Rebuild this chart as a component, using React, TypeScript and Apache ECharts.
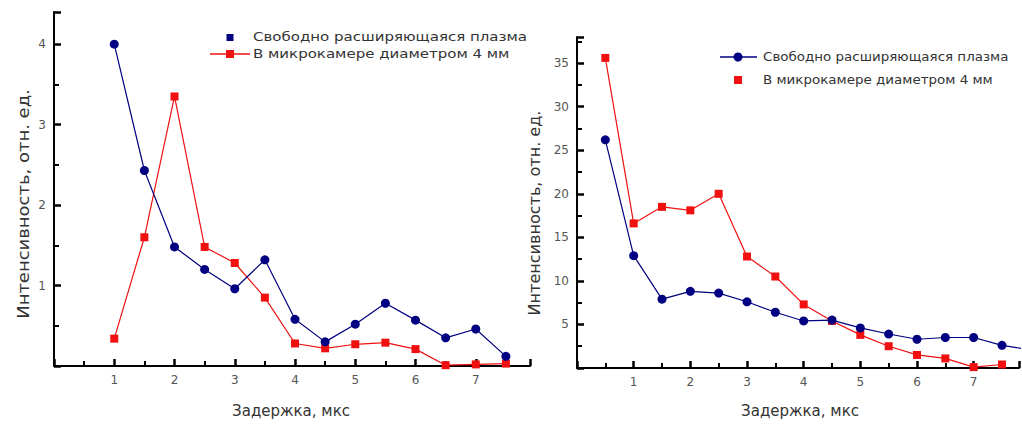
import React, { useEffect, useRef } from "react";
import * as echarts from "echarts";

// Left panel (delay, µs)
const leftDelays = [1, 1.5, 2, 2.5, 3, 3.5, 4, 4.5, 5, 5.5, 6, 6.5, 7, 7.5];
const leftFree = [4.0, 2.43, 1.48, 1.2, 0.96, 1.32, 0.58, 0.3, 0.52, 0.78, 0.57, 0.35, 0.46, 0.12];
const leftChamber = [0.34, 1.6, 3.35, 1.48, 1.28, 0.85, 0.28, 0.22, 0.27, 0.29, 0.21, 0.01, 0.02, 0.03];

// Right panel
const rightDelaysFree = [0.5, 1, 1.5, 2, 2.5, 3, 3.5, 4, 4.5, 5, 5.5, 6, 6.5, 7, 7.5, 8];
const rightFree = [26.2, 12.9, 7.9, 8.8, 8.6, 7.6, 6.4, 5.4, 5.5, 4.6, 3.9, 3.3, 3.5, 3.5, 2.6, 2.1];
const rightDelaysChamber = [0.5, 1, 1.5, 2, 2.5, 3, 3.5, 4, 4.5, 5, 5.5, 6, 6.5, 7, 7.5];
const rightChamber = [35.6, 16.6, 18.5, 18.1, 20.0, 12.8, 10.5, 7.3, 5.4, 3.8, 2.5, 1.5, 1.1, 0.1, 0.4];

const seriesNames = ["Свободно расширяющаяся плазма", "В микрокамере диаметром 4 мм"];
const xTitle = "Задержка, мкс";
const yTitle = "Интенсивность, отн. ед.";

const BLUE = "#000080";
const RED = "#f01010";
const TEXT = "#333333";
const FONT = "DejaVu Sans";

const pairs = (xs: number[], ys: number[]) => ys.map((y, i) => [xs[i], y]);

const intLabel = (v: number) => (v > 0 && Math.abs(v - Math.round(v)) < 1e-9 ? String(Math.round(v)) : "");
const yLabelStep = (step: number) => (v: number) =>
  v > 0 && Math.abs(v / step - Math.round(v / step)) < 1e-9 ? String(Math.round(v)) : "";

function axisCommon() {
  return {
    axisLine: { show: true, onZero: false, lineStyle: { color: "#000000", width: 2 } },
    axisTick: { show: true, inside: true, length: 7, lineStyle: { color: "#000000", width: 2.5 } },
    minorTick: { show: true, splitNumber: 2, length: 5, lineStyle: { color: "#000000", width: 2 } },
    splitLine: { show: false },
    minorSplitLine: { show: false },
    axisLabel: { show: true, color: "#555", fontFamily: FONT, fontSize: 12, margin: 8 },
  };
}

export default function App() {
  const ref = useRef<HTMLDivElement>(null);
  useEffect(() => {
    if (!ref.current) return;
    const chart = echarts.init(ref.current, undefined, { renderer: "svg" });
    const c = axisCommon();
    const option: any = {
      animation: false,
      backgroundColor: "#ffffff",
      grid: [
        { left: 54, top: 12, width: 476, height: 354 },
        { left: 577, top: 37, width: 445, height: 331 },
      ],
      xAxis: [
        { type: "value", gridIndex: 0, min: 0, max: 7.9, interval: 1, ...c, axisLabel: { ...c.axisLabel, formatter: intLabel } },
        { type: "value", gridIndex: 1, min: 0, max: 7.8, interval: 1, ...c, axisLabel: { ...c.axisLabel, formatter: intLabel } },
      ],
      yAxis: [
        { type: "value", gridIndex: 0, min: 0, max: 4.4, interval: 1, ...c, axisLabel: { ...c.axisLabel, formatter: yLabelStep(1) } },
        { type: "value", gridIndex: 1, min: 0, max: 38, interval: 5, ...c, axisLabel: { ...c.axisLabel, formatter: yLabelStep(5) } },
      ],
      series: [
        {
          name: seriesNames[1], type: "line", xAxisIndex: 0, yAxisIndex: 0,
          data: pairs(leftDelays, leftChamber), symbol: "rect", symbolSize: 8,
          itemStyle: { color: RED }, lineStyle: { color: RED, width: 1.2 }, z: 2,
        },
        {
          name: seriesNames[0], type: "line", xAxisIndex: 0, yAxisIndex: 0,
          data: pairs(leftDelays, leftFree), symbol: "circle", symbolSize: 9,
          itemStyle: { color: BLUE }, lineStyle: { color: BLUE, width: 1.2 }, z: 3,
        },
        {
          name: seriesNames[1], type: "line", xAxisIndex: 1, yAxisIndex: 1,
          data: pairs(rightDelaysChamber, rightChamber), symbol: "rect", symbolSize: 8,
          itemStyle: { color: RED }, lineStyle: { color: RED, width: 1.2 }, z: 2,
        },
        {
          name: seriesNames[0], type: "line", xAxisIndex: 1, yAxisIndex: 1,
          data: pairs(rightDelaysFree, rightFree), symbol: "circle", symbolSize: 9,
          itemStyle: { color: BLUE }, lineStyle: { color: BLUE, width: 1.2 }, z: 3,
        },
      ],
      graphic: [
        // Left legend
        { type: "rect", shape: { x: 226.5, y: 34, width: 7, height: 7 }, style: { fill: BLUE } },
        { type: "line", shape: { x1: 210, y1: 54, x2: 250, y2: 54 }, style: { stroke: RED, lineWidth: 1.5 } },
        { type: "rect", shape: { x: 226, y: 50, width: 8, height: 8 }, style: { fill: RED } },
        {
          type: "text", x: 253, y: 37, scaleX: 1.25,
          style: { text: seriesNames[0], fill: TEXT, fontFamily: FONT, fontSize: 12, textAlign: "left", textVerticalAlign: "middle" },
        },
        {
          type: "text", x: 253, y: 54, scaleX: 1.25,
          style: { text: seriesNames[1], fill: TEXT, fontFamily: FONT, fontSize: 12, textAlign: "left", textVerticalAlign: "middle" },
        },
        // Right legend
        { type: "line", shape: { x1: 720, y1: 57, x2: 757, y2: 57 }, style: { stroke: BLUE, lineWidth: 1.5 } },
        { type: "circle", shape: { cx: 738, cy: 57, r: 4.5 }, style: { fill: BLUE } },
        { type: "rect", shape: { x: 734, y: 76, width: 8, height: 8 }, style: { fill: RED } },
        {
          type: "text", x: 763, y: 57, scaleX: 1.12,
          style: { text: seriesNames[0], fill: TEXT, fontFamily: FONT, fontSize: 12, textAlign: "left", textVerticalAlign: "middle" },
        },
        {
          type: "text", x: 763, y: 80, scaleX: 1.12,
          style: { text: seriesNames[1], fill: TEXT, fontFamily: FONT, fontSize: 12, textAlign: "left", textVerticalAlign: "middle" },
        },
        // Axis titles
        {
          type: "text", x: 291, y: 411,
          style: { text: xTitle, fill: TEXT, fontFamily: FONT, fontSize: 15, textAlign: "center", textVerticalAlign: "middle" },
        },
        {
          type: "text", x: 800, y: 411,
          style: { text: xTitle, fill: TEXT, fontFamily: FONT, fontSize: 15, textAlign: "center", textVerticalAlign: "middle" },
        },
        {
          type: "text", x: 24, y: 204, rotation: Math.PI / 2, scaleX: 1.2,
          style: { text: yTitle, fill: TEXT, fontFamily: FONT, fontSize: 15, textAlign: "center", textVerticalAlign: "middle" },
        },
        {
          type: "text", x: 535, y: 213, rotation: Math.PI / 2, scaleX: 1.07,
          style: { text: yTitle, fill: TEXT, fontFamily: FONT, fontSize: 15, textAlign: "center", textVerticalAlign: "middle" },
        },
      ],
    };
    chart.setOption(option);
    return () => chart.dispose();
  }, []);
  return <div ref={ref} style={{ position: "absolute", left: 0, top: 0, width: 1022, height: 424 }} />;
}
